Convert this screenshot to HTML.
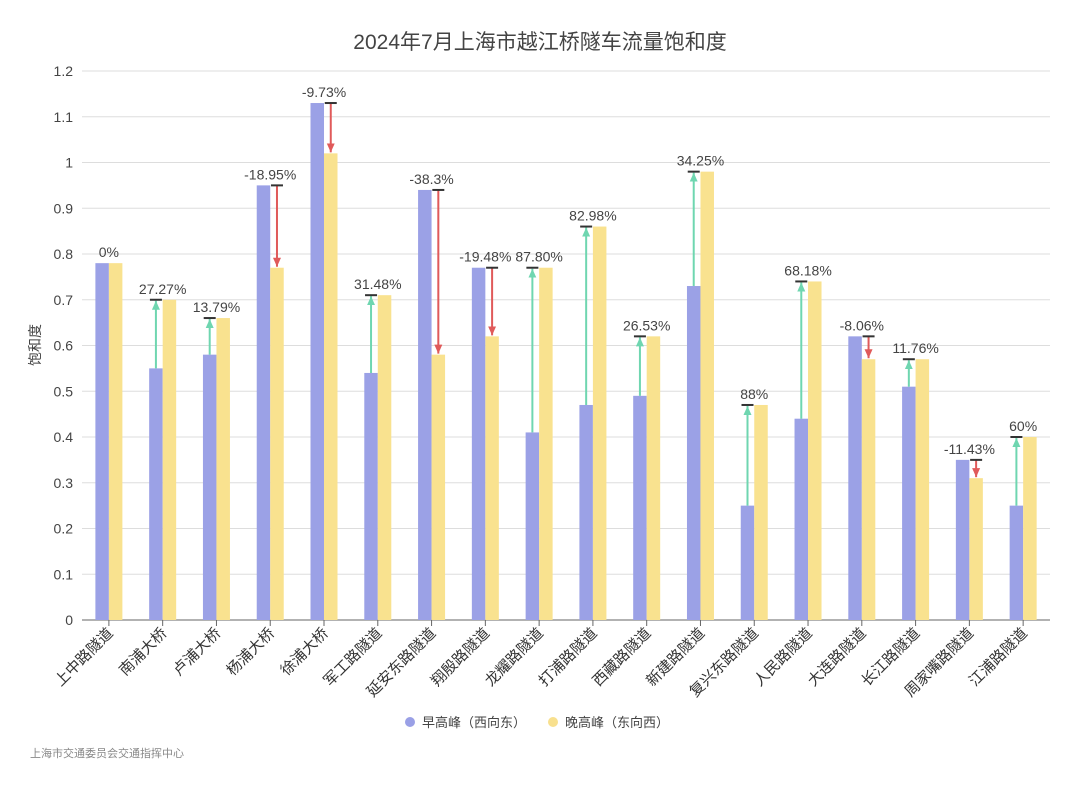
<!DOCTYPE html>
<html><head><meta charset="utf-8"><style>body{margin:0;background:#fff}svg{display:block;font-family:"Liberation Sans","Noto Sans CJK SC",sans-serif}</style></head><body>
<svg id="s" width="1080" height="785" xmlns="http://www.w3.org/2000/svg">
<rect width="1080" height="785" fill="#fff"/>
<text x="540" y="49" font-size="21" fill="#444" text-anchor="middle">2024年7月上海市越江桥隧车流量饱和度</text>
<text transform="translate(40,345) rotate(-90)" font-size="14" fill="#444" text-anchor="middle">饱和度</text>
<g id="g"></g>
<circle cx="410" cy="722" r="5" fill="#9aa0e6"/><text x="422" y="727" font-size="13" fill="#444">早高峰（西向东）</text>
<circle cx="553" cy="722" r="5" fill="#f8e08e"/><text x="565" y="727" font-size="13" fill="#444">晚高峰（东向西）</text>
<text x="30" y="757" font-size="11" fill="#888">上海市交通委员会交通指挥中心</text>
</svg>
<script>
var d=[["上中路隧道",.78,.78,"0%"],["南浦大桥",.55,.70,"27.27%"],["卢浦大桥",.58,.66,"13.79%"],["杨浦大桥",.95,.77,"-18.95%"],["徐浦大桥",1.13,1.02,"-9.73%"],["军工路隧道",.54,.71,"31.48%"],["延安东路隧道",.94,.58,"-38.3%"],["翔殷路隧道",.77,.62,"-19.48%"],["龙耀路隧道",.41,.77,"87.80%"],["打浦路隧道",.47,.86,"82.98%"],["西藏路隧道",.49,.62,"26.53%"],["新建路隧道",.73,.98,"34.25%"],["复兴东路隧道",.25,.47,"88%"],["人民路隧道",.44,.74,"68.18%"],["大连路隧道",.62,.57,"-8.06%"],["长江路隧道",.51,.57,"11.76%"],["周家嘴路隧道",.35,.31,"-11.43%"],["江浦路隧道",.25,.40,"60%"]];
var h='';function Y(v){return 620-v*457.5}
for(var k=0;k<=12;k++){var y=Y(k/10);h+='<line x1="82" x2="1050" y1="'+y+'" y2="'+y+'" stroke="'+(k?'#ddd':'#666')+'"/>';h+='<text x="73" y="'+(y+5)+'" font-size="14" fill="#444" text-anchor="end">'+(k==0?'0':k==10?'1':(k/10).toString())+'</text>';}
h+='<defs><marker id="ag" markerUnits="userSpaceOnUse" markerWidth="9" markerHeight="9" refX="9" refY="4.5" orient="auto"><path d="M0,0.5L9,4.5L0,8.5z" fill="#6fd6b0"/></marker><marker id="ar" markerUnits="userSpaceOnUse" markerWidth="9" markerHeight="9" refX="9" refY="4.5" orient="auto"><path d="M0,0.5L9,4.5L0,8.5z" fill="#e05a5a"/></marker></defs>';
d.forEach(function(r,i){var cx=82+53.78*(i+.5),a=r[1],b=r[2];
h+='<rect x="'+(cx-13.5)+'" y="'+Y(a)+'" width="13.5" height="'+(a*457.5)+'" fill="#9ba1e6"/>';
h+='<rect x="'+cx+'" y="'+Y(b)+'" width="13.5" height="'+(b*457.5)+'" fill="#f9e28f"/>';
h+='<line x1="'+cx+'" x2="'+cx+'" y1="620" y2="626" stroke="#666"/>';
h+='<text transform="translate('+(cx+5)+',634) rotate(-45)" font-size="15" fill="#333" text-anchor="end">'+r[0]+'</text>';
var ax,top;
if(b>a){ax=cx-6.75;top=Y(b);h+='<line x1="'+ax+'" x2="'+ax+'" y1="'+Y(a)+'" y2="'+(top+1)+'" stroke="#6fd6b0" stroke-width="2" marker-end="url(#ag)"/>';}
else if(b<a){ax=cx+6.75;top=Y(a);h+='<line x1="'+ax+'" x2="'+ax+'" y1="'+top+'" y2="'+(Y(b)-1)+'" stroke="#e05a5a" stroke-width="2" marker-end="url(#ar)"/>';}
else{ax=cx;top=Y(a);}
if(b!=a)h+='<line x1="'+(ax-6)+'" x2="'+(ax+6)+'" y1="'+top+'" y2="'+top+'" stroke="#333" stroke-width="2"/>';
h+='<text x="'+cx+'" y="'+(top-6)+'" font-size="14" fill="#444" text-anchor="middle">'+r[3]+'</text>';});
document.getElementById('g').innerHTML=h;
</script>
</body></html>
